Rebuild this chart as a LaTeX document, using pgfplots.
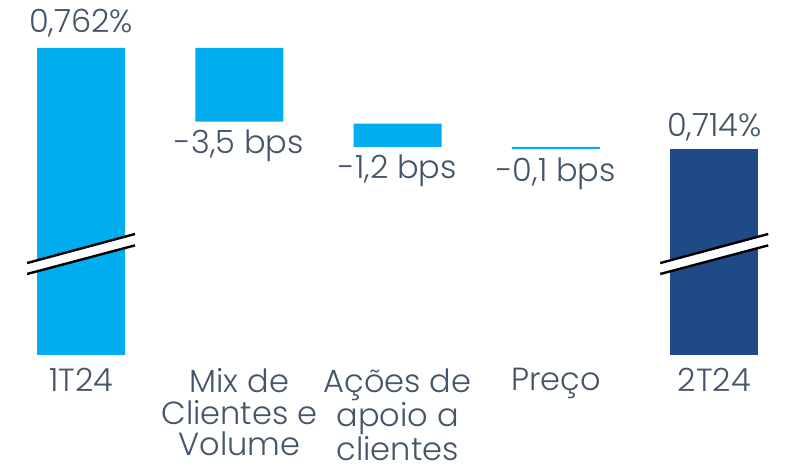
\documentclass[border=0pt]{standalone}
\usepackage{pgfplots}
\pgfplotsset{compat=1.18}
\usepackage{fontspec}
\setmainfont{Poppins}[UprightFont=* Light]
\definecolor{cy}{HTML}{00AEEF}
\definecolor{dk}{HTML}{1F4A85}
\definecolor{tx}{HTML}{44546A}
\begin{document}
\begin{tikzpicture}
\begin{axis}[
  scale only axis, width=397.5pt, height=177.5pt,
  xmin=-0.512, xmax=4.51, ymin=0.6161, ymax=0.7848,
  ybar stacked, bar width=44pt,
  axis line style={draw=none}, tick style={draw=none},
  ytick=\empty,
  xtick={0,1,2,3,4},
  xticklabels={1T24, {Mix de\\Clientes e\\Volume}, {Ações de\\apoio a\\clientes}, Preço, 2T24},
  xticklabel style={align=center, anchor=north, inner sep=0pt, yshift=-6.5pt, text=tx, font=\fontsize{16}{15.8}\selectfont},
  clip=false,
]
% invisible base (axis break floor 0.6161 for the end bars)
\addplot[draw=none, fill=none] coordinates {(0,0.6161) (1,0.7270) (2,0.7150) (3,0.7140) (4,0.6161)};
\addplot[draw=none, fill=cy] coordinates {(0,0.1459) (1,0.035) (2,0.011) (3,0.001) (4,0)};
\addplot[draw=none, fill=dk] coordinates {(0,0) (1,0) (2,0) (3,0) (4,0.0979)};
\coordinate (a1) at (axis cs:-0.341,0.6598);
\coordinate (a2) at (axis cs:0.341,0.6736);
\coordinate (a3) at (axis cs:0.341,0.6682);
\coordinate (a4) at (axis cs:-0.341,0.6546);
\coordinate (b1) at (axis cs:3.659,0.6598);
\coordinate (b2) at (axis cs:4.341,0.6736);
\coordinate (b3) at (axis cs:4.341,0.6682);
\coordinate (b4) at (axis cs:3.659,0.6546);
\node[anchor=base, yshift=7.5pt, text=tx, font=\fontsize{16}{16.5}\selectfont, inner sep=0pt] at (axis cs:0,0.762) {0,762\%};
\node[anchor=base, yshift=6pt, text=tx, font=\fontsize{16}{16.5}\selectfont, inner sep=0pt] at (axis cs:4,0.714) {0,714\%};
\node[anchor=north, yshift=-4pt, text=tx, font=\fontsize{16}{16.5}\selectfont, inner sep=0pt] at (axis cs:1,0.727) {-3,5 bps};
\node[anchor=north, yshift=-4pt, text=tx, font=\fontsize{16}{16.5}\selectfont, inner sep=0pt] at (axis cs:2,0.715) {-1,2 bps};
\node[anchor=north, yshift=-4pt, text=tx, font=\fontsize{16}{16.5}\selectfont, inner sep=0pt] at (axis cs:3,0.714) {-0,1 bps};
\end{axis}
% axis break marks
\fill[white] (a1) -- (a2) -- (a3) -- (a4) -- cycle;
\draw[black, line width=1.2pt] (a1) -- (a2) (a4) -- (a3);
\fill[white] (b1) -- (b2) -- (b3) -- (b4) -- cycle;
\draw[black, line width=1.2pt] (b1) -- (b2) (b4) -- (b3);
\path ([yshift=-5pt]current bounding box.south west) -- ++(1pt,0);
\end{tikzpicture}
\end{document}
